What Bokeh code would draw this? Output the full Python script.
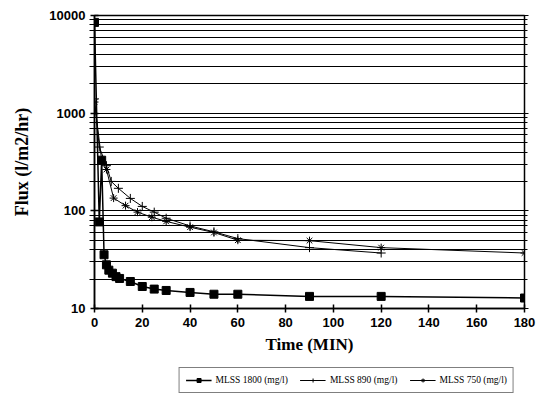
from bokeh.plotting import figure
from bokeh.layouts import column
from bokeh.models import Legend, LegendItem, LogAxis, Range1d, FixedTicker, NumeralTickFormatter
from bokeh.embed import file_html
from bokeh.resources import INLINE

# ---- data ----
t_1800 = [0, 2, 3, 4, 5, 6, 7.5, 9, 10.5, 15, 20, 25, 30, 40, 50, 60, 90, 120, 180]
f_1800 = [8500, 77, 330, 35.5, 28, 24.7, 23, 21.2, 20.3, 18.9, 16.8, 15.8, 15.3, 14.6, 14, 14, 13.3, 13.3, 12.8]

t_890 = [0, 2, 5, 7, 10, 15, 20, 25, 30, 40, 50, 60, 90, 120]
f_890 = [1400, 450, 290, 200, 170, 134, 111, 97, 84, 70, 61, 52, 42, 37]

t_750 = [0, 3, 5, 8, 13, 18, 24, 30, 40, 50, 60, 90, 120, 180]
f_750 = [1300, 330, 265, 135, 113, 97, 86, 78, 68, 60, 50, 49.5, 42, 37]

x_ticks = [0, 20, 40, 60, 80, 100, 120, 140, 160, 180]
y_ticks = [10, 100, 1000, 10000]
y_minor = [m * d for d in (10, 100, 1000) for m in range(2, 10)]
labels = ["MLSS 1800 (mg/l)", "MLSS 890 (mg/l)", "MLSS 750 (mg/l)"]

p = figure(width=539, height=356, y_axis_type="log", output_backend="svg",
           toolbar_location=None, x_range=Range1d(0, 180), y_range=Range1d(10, 10000),
           min_border_left=94, min_border_right=15, min_border_top=15, min_border_bottom=46)
p.background_fill_color = "white"
p.border_fill_color = "white"
p.outline_line_color = "black"
p.outline_line_width = 1.5

p.xgrid.grid_line_color = None
p.ygrid.grid_line_color = "black"
p.ygrid.grid_line_width = 1
p.ygrid.minor_grid_line_color = "black"
p.ygrid.minor_grid_line_width = 1

p.xaxis.ticker = FixedTicker(ticks=x_ticks)
p.yaxis.ticker = FixedTicker(ticks=y_ticks, minor_ticks=y_minor)
p.yaxis.formatter = NumeralTickFormatter(format="0")
for ax in (p.xaxis[0], p.yaxis[0]):
    ax.axis_line_width = 1.5
    ax.axis_line_color = "black"
    ax.major_tick_line_width = 1.5
    ax.major_tick_in = 4
    ax.major_tick_out = 4
    ax.minor_tick_in = 3
    ax.minor_tick_out = 5
    ax.major_label_text_font = "Liberation Sans"
    ax.major_label_text_font_style = "bold"
    ax.major_label_text_font_size = "13px"
    ax.major_label_text_color = "black"
    ax.axis_label_text_font = "Liberation Serif"
    ax.axis_label_text_font_style = "bold"
    ax.axis_label_text_color = "black"
p.xaxis.axis_label_text_font_size = "17px"
p.yaxis.axis_label_text_font_size = "18px"
p.xaxis.minor_tick_line_color = None
p.xaxis.axis_label = "Time (MIN)"
p.yaxis.axis_label = "Flux (l/m2/hr)"
p.xaxis.axis_label_standoff = 5
p.yaxis.axis_label_standoff = 14
p.yaxis.major_label_standoff = 4

right = LogAxis(major_label_text_color=None, axis_line_color=None,
                major_tick_in=0, major_tick_out=4, minor_tick_in=0, minor_tick_out=3)
right.ticker = FixedTicker(ticks=y_ticks, minor_ticks=y_minor)
p.add_layout(right, "right")

p.line(t_1800, f_1800, line_color="black", line_width=1.5)
p.scatter(t_1800, f_1800, marker="square", size=8, color="black")
p.line(t_890, f_890, line_color="black", line_width=1)
p.scatter(t_890, f_890, marker="cross", size=9, line_color="black", line_width=1)
p.line(t_750, f_750, line_color="black", line_width=1)
p.scatter(t_750, f_750, marker="asterisk", size=8, line_color="black", line_width=1)

# ---- legend strip below the chart ----
lg = figure(width=532, height=40, output_backend="svg", toolbar_location=None,
            x_range=Range1d(0, 1), y_range=Range1d(0, 1),
            min_border_left=0, min_border_right=0, min_border_top=0, min_border_bottom=0)
lg.axis.visible = False
lg.grid.visible = False
lg.outline_line_color = None
lg.background_fill_color = "white"
lg.border_fill_color = "white"
nan = float("nan")
a1 = lg.line([nan], [nan], line_color="black", line_width=1.5)
a2 = lg.scatter([nan], [nan], marker="square", size=7, color="black")
b1 = lg.line([nan], [nan], line_color="black", line_width=1)
b2 = lg.scatter([nan], [nan], marker="cross", size=8, line_color="black")
c1 = lg.line([nan], [nan], line_color="black", line_width=1)
c2 = lg.scatter([nan], [nan], marker="asterisk", size=7, line_color="black")

legend = Legend(items=[LegendItem(label=labels[0], renderers=[a1, a2]),
                       LegendItem(label=labels[1], renderers=[b1, b2]),
                       LegendItem(label=labels[2], renderers=[c1, c2])],
                orientation="horizontal", location="bottom_right",
                label_text_font="Liberation Serif", label_text_font_size="9.5px",
                label_text_color="black", glyph_width=26, glyph_height=10,
                label_standoff=4, spacing=12, padding=6, margin=3,
                label_height=12,
                border_line_color="black", border_line_width=1.2,
                background_fill_color="white", background_fill_alpha=1)
lg.add_layout(legend, "center")

open("out.html", "w").write(file_html(column(p, lg, spacing=0), INLINE))
